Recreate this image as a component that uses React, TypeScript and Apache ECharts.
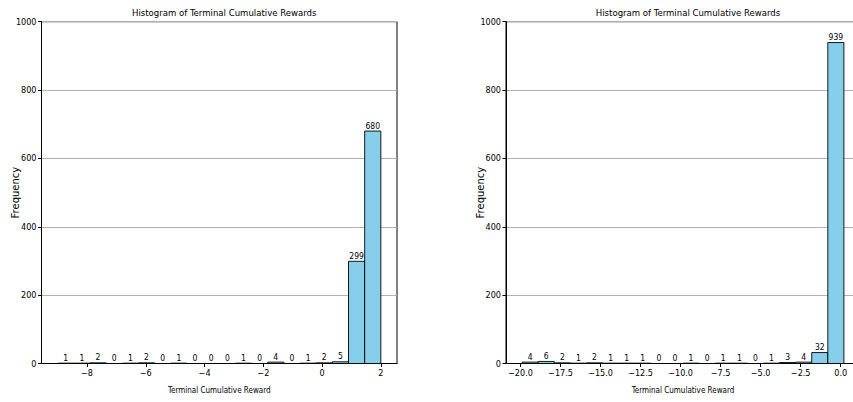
import React, { useEffect, useRef } from "react";
import * as echarts from "echarts";

// Left histogram
const leftEdges = [-9.0, -8.45, -7.9, -7.35, -6.8, -6.25, -5.7, -5.15, -4.6, -4.05, -3.5, -2.95, -2.4, -1.85, -1.3, -0.75, -0.2, 0.35, 0.9, 1.45, 2.0];
const leftCounts = [1, 1, 2, 0, 1, 2, 0, 1, 0, 0, 0, 1, 0, 4, 0, 1, 2, 5, 299, 680];
const leftTicks = [-8, -6, -4, -2, 0, 2];

// Right histogram
const rightEdges = [-19.9, -18.895, -17.89, -16.885, -15.88, -14.875, -13.87, -12.865, -11.86, -10.855, -9.85, -8.845, -7.84, -6.835, -5.83, -4.825, -3.82, -2.815, -1.81, -0.805, 0.2];
const rightCounts = [4, 6, 2, 1, 2, 1, 1, 1, 0, 0, 1, 0, 1, 1, 0, 1, 3, 4, 32, 939];
const rightTicks = [-20, -17.5, -15, -12.5, -10, -7.5, -5, -2.5, 0];

const TITLE = "Histogram of Terminal Cumulative Rewards";
const XNAME = "Terminal Cumulative Reward";
const YNAME = "Frequency";

const NARROW = "'Liberation Sans Narrow', 'DejaVu Sans Condensed', 'DejaVu Sans', sans-serif";
const BAR_COLOR = "#87CEEB";

const CHART_W = 860;

function binData(edges: number[], counts: number[]) {
  return counts.map((c, i) => [edges[i], edges[i + 1], c]);
}

function renderBin(params: any, api: any) {
  const x0 = api.value(0);
  const x1 = api.value(1);
  const c = api.value(2);
  const p0 = api.coord([x0, c]);
  const p1 = api.coord([x1, 0]);
  return {
    type: "group",
    children: [
      {
        type: "rect",
        shape: { x: p0[0], y: p0[1], width: p1[0] - p0[0], height: p1[1] - p0[1] },
        style: { fill: BAR_COLOR, stroke: "#000", lineWidth: 0.9 },
      },
      {
        type: "text",
        x: (p0[0] + p1[0]) / 2,
        y: p0[1] - 1,
        style: {
          text: String(c),
          align: "center",
          verticalAlign: "bottom",
          fill: "#000",
          font: `8.5px ${NARROW}`,
        },
      },
    ],
  };
}

function fmt(v: number, decimals: number) {
  const s = Math.abs(v).toFixed(decimals);
  return v < 0 ? "\u2212" + s : s;
}

export default function App() {
  const ref = useRef<HTMLDivElement>(null);
  useEffect(() => {
    document.body.style.margin = "0";
    document.body.style.overflow = "hidden";
    if (!ref.current) return;
    const chart = echarts.init(ref.current, null, { renderer: "svg" });
    const grids = [
      { left: 41.5, right: CHART_W - 397, top: 21.7, bottom: 38.5 },
      { left: 506, right: CHART_W - 860, top: 21.7, bottom: 38.5 },
    ];
    const xRanges = [
      [-9.55, 2.55],
      [-20.905, 1.205],
    ];
    const tickSets = [leftTicks, rightTicks];
    const decs = [0, 1];
    const centers = [219.2, 683];

    const axisText = { fontFamily: NARROW, fontSize: 9, color: "#000" };

    chart.setOption({
      animation: false,
      backgroundColor: "#fff",
      title: centers.map((cx) => ({
        text: TITLE,
        left: cx,
        top: 2,
        textAlign: "center",
        textStyle: { fontFamily: NARROW, fontSize: 9.5, fontWeight: "normal", color: "#000" },
      })),
      grid: grids.map((g) => ({ ...g, show: true, borderColor: "#000", borderWidth: 1, backgroundColor: "transparent" })),
      xAxis: [0, 1].map((i) => ({
        type: "value",
        gridIndex: i,
        min: xRanges[i][0],
        max: xRanges[i][1],
        name: XNAME,
        nameLocation: "middle",
        nameGap: 23,
        nameMoveOverlap: false,
        nameTextStyle: { fontFamily: NARROW, fontSize: 8, color: "#000" },
        splitLine: { show: false },
        axisLine: { show: true, onZero: false, lineStyle: { color: "#000", width: 1 } },
        axisTick: { show: true, length: 3.5, customValues: tickSets[i], lineStyle: { color: "#000" } },
        axisLabel: {
          ...axisText,
          margin: 5,
          customValues: tickSets[i],
          formatter: (v: number) => fmt(v, decs[i]),
        },
      })),
      yAxis: [0, 1].map((i) => ({
        type: "value",
        gridIndex: i,
        min: 0,
        max: 1000,
        interval: 200,
        name: YNAME,
        nameLocation: "middle",
        nameGap: 21,
        nameMoveOverlap: false,
        nameTextStyle: { fontFamily: "'DejaVu Sans', sans-serif", fontSize: 10, color: "#000" },
        axisLine: { show: true, onZero: false, lineStyle: { color: "#000", width: 1 } },
        axisTick: { show: true, length: 3.5, lineStyle: { color: "#000" } },
        axisLabel: { ...axisText, margin: 5, formatter: (v: number) => String(v) },
        splitLine: { show: true, lineStyle: { color: "#b0b0b0", width: 1 } },
      })),
      series: [
        {
          type: "custom",
          xAxisIndex: 0,
          yAxisIndex: 0,
          renderItem: renderBin,
          encode: { x: [0, 1], y: 2 },
          data: binData(leftEdges, leftCounts),
          clip: false,
        },
        {
          type: "custom",
          xAxisIndex: 1,
          yAxisIndex: 1,
          renderItem: renderBin,
          encode: { x: [0, 1], y: 2 },
          data: binData(rightEdges, rightCounts),
          clip: false,
        },
      ],
    });
    return () => chart.dispose();
  }, []);
  return <div ref={ref} style={{ width: CHART_W, height: 402 }} />;
}
